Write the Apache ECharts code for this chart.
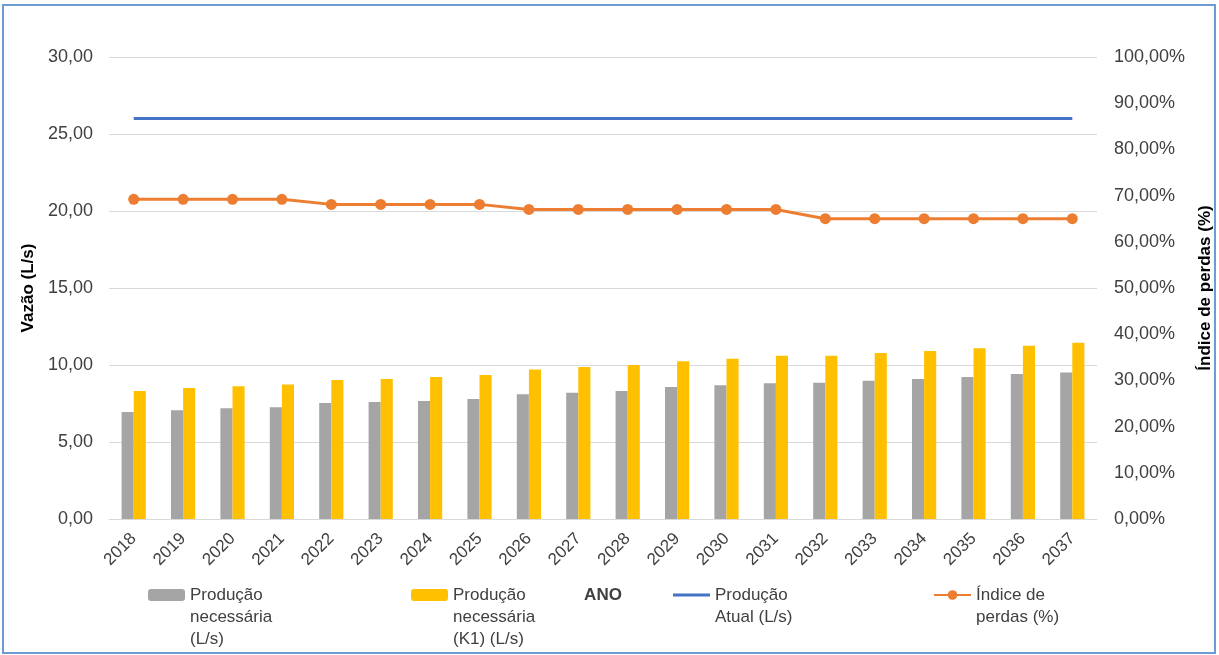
<!DOCTYPE html>
<html>
<head>
<meta charset="utf-8">
<script src="https://cdn.jsdelivr.net/npm/echarts@6/dist/echarts.min.js"></script>
<style>
  html, body { margin: 0; padding: 0; background: #fff; }
  #chart { width: 1219px; height: 655px; }
</style>
</head>
<body>
<div id="chart"></div>
<script>
// dados
const anos = ['2018', '2019', '2020', '2021', '2022', '2023', '2024', '2025', '2026', '2027',
  '2028', '2029', '2030', '2031', '2032', '2033', '2034', '2035', '2036', '2037']
const producaoNecessaria = [6.95, 7.06, 7.19, 7.25, 7.53, 7.60, 7.66, 7.79, 8.10, 8.20,
  8.31, 8.57, 8.68, 8.81, 8.85, 8.98, 9.09, 9.22, 9.42, 9.52]
const producaoK1 = [8.31, 8.51, 8.62, 8.74, 9.03, 9.09, 9.22, 9.35, 9.70, 9.87,
  10.00, 10.24, 10.41, 10.60, 10.60, 10.78, 10.91, 11.08, 11.25, 11.45]
const producaoAtual = [26, 26, 26, 26, 26, 26, 26, 26, 26, 26,
  26, 26, 26, 26, 26, 26, 26, 26, 26, 26]
const indicePerdas = [69.2, 69.2, 69.2, 69.2, 68.1, 68.1, 68.1, 68.1, 67.0, 67.0,
  67.0, 67.0, 67.0, 67.0, 65.0, 65.0, 65.0, 65.0, 65.0, 65.0]

const nomes = {
  a: 'Produção necessária (L/s)',
  b: 'Produção necessária (K1) (L/s)',
  c: 'Produção Atual (L/s)',
  d: 'Índice de perdas (%)'
}
const rotulos = {
  [nomes.a]: ['Produção', 'necessária', '(L/s)'],
  [nomes.b]: ['Produção', 'necessária', '(K1) (L/s)'],
  [nomes.c]: ['Produção', 'Atual (L/s)'],
  [nomes.d]: ['Índice de', 'perdas (%)']
}

const fonte = 'Liberation Sans, Arial, sans-serif'
const corTexto = '#404040'
const virgula = (v) => v.toFixed(2).replace('.', ',')
const altLinha = 22
const centroIcone = 595

const chart = echarts.init(document.getElementById('chart'))

// uma legenda por item; linhas vazias em cima para alinhar a 1a linha com o ícone
const legenda = (nome, left, icon) => {
  const linhas = rotulos[nome]
  const total = linhas.length * 2 - 1
  return {
    data: [icon ? { name: nome, icon: icon } : nome],
    left: left,
    top: centroIcone - total * altLinha / 2,
    padding: 0,
    itemWidth: 37,
    itemHeight: icon === 'rect' ? 3 : 12,
    selectedMode: false,
    formatter: () => '\n'.repeat(linhas.length - 1) + linhas.join('\n'),
    textStyle: {
      fontFamily: fonte,
      fontSize: 17,
      lineHeight: altLinha,
      color: corTexto
    }
  }
}

const option = {
  animation: false,
  textStyle: { fontFamily: fonte },
  graphic: [{
    type: 'rect',
    shape: { x: 3, y: 5, width: 1212, height: 648 },
    style: { fill: 'none', stroke: '#6d9bd6', lineWidth: 2 },
    silent: true
  }],
  grid: { left: 109, right: 122, top: 57, bottom: 136, outerBoundsMode: 'none' },
  legend: [
    legenda(nomes.a, 148),
    legenda(nomes.b, 411),
    legenda(nomes.c, 673, 'rect'),
    legenda(nomes.d, 933)
  ],
  xAxis: {
    type: 'category',
    data: anos,
    name: 'ANO',
    nameLocation: 'middle',
    nameGap: 68,
    nameTextStyle: { fontFamily: fonte, fontSize: 17, fontWeight: 'bold', color: corTexto },
    axisLine: { lineStyle: { color: '#d9d9d9' } },
    axisTick: { show: false },
    axisLabel: { rotate: 45, fontSize: 17, color: corTexto, margin: 17, interval: 0 }
  },
  yAxis: [
    {
      type: 'value',
      min: 0,
      max: 30,
      interval: 5,
      name: 'Vazão (L/s)',
      nameLocation: 'middle',
      nameGap: 70,
      nameTextStyle: { fontFamily: fonte, fontSize: 17, fontWeight: 'bold', color: '#000' },
      axisLabel: { fontSize: 18, color: corTexto, margin: 16, formatter: virgula },
      splitLine: { lineStyle: { color: '#d9d9d9' } }
    },
    {
      type: 'value',
      min: 0,
      max: 100,
      interval: 10,
      name: 'Índice de perdas (%)',
      nameLocation: 'middle',
      nameGap: 100,
      nameRotate: 90,
      nameTextStyle: { fontFamily: fonte, fontSize: 17, fontWeight: 'bold', color: '#000' },
      axisLabel: { fontSize: 18, color: corTexto, margin: 17, formatter: (v) => virgula(v) + '%' },
      splitLine: { show: false }
    }
  ],
  series: [
    {
      name: nomes.a,
      type: 'bar',
      data: producaoNecessaria,
      itemStyle: { color: '#A5A5A5' },
      barGap: '0%',
      barCategoryGap: '51%'
    },
    {
      name: nomes.b,
      type: 'bar',
      data: producaoK1,
      itemStyle: { color: '#FFC000' }
    },
    {
      name: nomes.c,
      type: 'line',
      data: producaoAtual,
      symbol: 'none',
      lineStyle: { color: '#4472C4', width: 3 },
      itemStyle: { color: '#4472C4' }
    },
    {
      name: nomes.d,
      type: 'line',
      yAxisIndex: 1,
      data: indicePerdas,
      symbol: 'circle',
      symbolSize: 11,
      lineStyle: { color: '#ED7D31', width: 3 },
      itemStyle: { color: '#ED7D31' }
    }
  ]
}

chart.setOption(option)
</script>
</body>
</html>
